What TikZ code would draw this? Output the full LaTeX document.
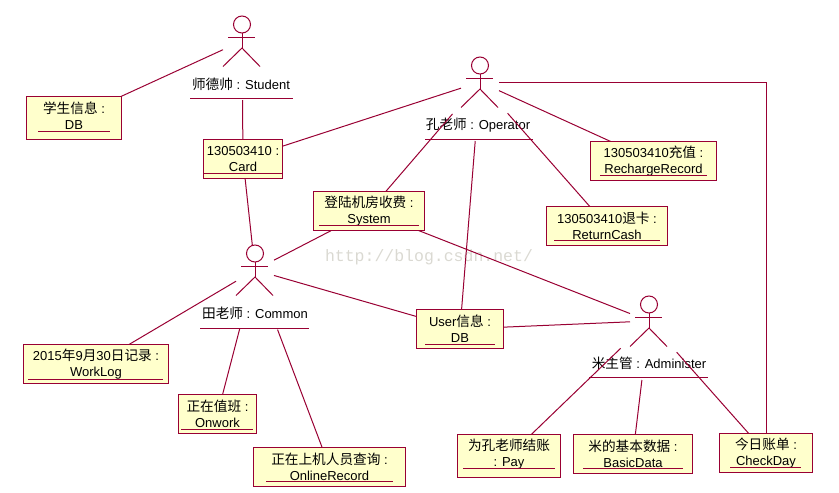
\documentclass[tikz,border=0pt]{standalone}
\usepackage{fontspec}
\setmainfont{Liberation Sans}
\newfontfamily\cjk[Scale=1.05]{Noto Sans CJK SC}
\newfontfamily\markfont{Liberation Mono}
\newcommand{\zh}[1]{{\cjk #1}}
\newcommand{\lowgap}[1]{\rule[-#1pt]{0pt}{#1pt}}
\definecolor{rosered}{HTML}{990033}
\definecolor{roseyellow}{HTML}{FFFFCC}
\definecolor{markgray}{HTML}{DAD9D2}
\usetikzlibrary{positioning}

\begin{document}
\begin{tikzpicture}[x=1pt,y=-1pt]
\tikzset{assoc/.style={draw=rosered,line width=1pt}}
\tikzset{pastlabel/.style={shorten <=#1},pastlabel/.default=13pt}
\tikzset{intoarea/.style={shorten <=-35pt}}
\tikzset{objtext/.style={font=\fontsize{13}{16}\selectfont,align=center,inner sep=0pt,outer sep=0pt}}
\tikzset{objbox/.style={objtext,draw=rosered,fill=roseyellow,line width=1pt}}
\tikzset{actorarea/.style={rectangle,minimum width=38pt,minimum height=118pt,inner sep=0pt,outer sep=0pt}}
\tikzset{actorman/.pic={
    \draw[assoc] (0,-16.5) circle (8.5pt);
    \draw[assoc] (0,-8) -- (0,7);
    \draw[assoc] (-14,-4) -- (13,-4);
    \draw[assoc] (-19,25.5) -- (0,7) -- (18,25.5);
}}
\useasboundingbox (0,0) rectangle (839,493);

\node[font=\markfont\fontsize{16.5}{18}\selectfont,text=markgray,inner sep=0pt] (watermark) at (429,257) {http://blog.csdn.net/};

\node[actorarea] (student) at (242,41) {};
\node[actorarea] (operator) at (480,82) {};
\node[actorarea] (common) at (255,270) {};
\node[actorarea] (administer) at (649,321) {};

\node[objbox,minimum width=95pt,minimum height=43pt] (studentDB) at (74,118) {\zh{学生信息} :\\DB\lowgap{4}};
\node[objbox,minimum width=79pt,minimum height=39pt] (card) at (243,159) {130503410 :\\Card};
\node[objbox,minimum width=111pt,minimum height=39pt] (system) at (369,211) {\zh{登陆机房收费} :\\System};
\node[objbox,minimum width=126pt,minimum height=39pt] (recharge) at (653.5,161) {130503410\zh{充值} :\\RechargeRecord};
\node[objbox,minimum width=121pt,minimum height=39pt] (returnCash) at (607,226) {130503410\zh{退卡} :\\ReturnCash};
\node[objbox,minimum width=145pt,minimum height=39pt] (workLog) at (96,364) {2015\zh{年}9\zh{月}30\zh{日记录} :\\WorkLog};
\node[objbox,minimum width=78pt,minimum height=39pt] (onwork) at (217.5,414) {\zh{正在值班} :\\Onwork};
\node[objbox,minimum width=152pt,minimum height=39pt] (onlineRecord) at (329.5,467) {\zh{正在上机人员查询} :\\OnlineRecord};
\node[objbox,minimum width=87pt,minimum height=39pt] (userDB) at (460,329) {User\zh{信息} :\\DB};
\node[objbox,minimum width=103pt,minimum height=43pt] (pay) at (509,456) {\zh{为孔老师结账}\\: Pay\lowgap{7}};
\node[objbox,minimum width=119pt,minimum height=39pt] (basicData) at (633,454) {\zh{米的基本数据} :\\BasicData};
\node[objbox,minimum width=93pt,minimum height=39pt] (checkDay) at (766,453) {\zh{今日账单} :\\CheckDay};

\pic at (student) {actorman};
\pic at (operator) {actorman};
\pic at (common) {actorman};
\pic at (administer) {actorman};

\node[objtext] (studentLabel) at (241,84) {\zh{师德帅} : Student};
\node[objtext] (operatorLabel) at (478,125) {\zh{孔老师} : Operator};
\node[objtext] (commonLabel) at (255,313) {\zh{田老师} : Common};
\node[objtext] (administerLabel) at (649,363) {\zh{米主管} : Administer};

\draw[assoc] (190,98.5) -- (293,98.5);
\draw[assoc] (425,139.5) -- (533,139.5);
\draw[assoc] (200,328.5) -- (309,328.5);
\draw[assoc] (589,377.5) -- (708,377.5);

\draw[assoc] (38,131) -- (110,131);
\draw[assoc] (203.5,173.5) -- (282.5,173.5);
\draw[assoc] (319,225) -- (419,225);
\draw[assoc] (600,175) -- (707,175);
\draw[assoc] (554,240.5) -- (660,240.5);
\draw[assoc] (28,379.5) -- (163,379.5);
\draw[assoc] (181,429) -- (253,429);
\draw[assoc] (266,481.5) -- (393,481.5);
\draw[assoc] (425,344.5) -- (495,344.5);
\draw[assoc] (463,468.5) -- (555,468.5);
\draw[assoc] (583,468.5) -- (683,468.5);
\draw[assoc] (730,467.5) -- (801,467.5);

\draw[assoc] (student) -- (studentDB);
\draw[assoc] (student) -- (card);
\draw[assoc] (operator) -- (card);
\draw[assoc,intoarea] (common) -- (card);
\draw[assoc,pastlabel] (operator) -- (system);
\draw[assoc] (common) -- (system);
\draw[assoc] (operator) -- (recharge);
\draw[assoc,pastlabel] (operator) -- (returnCash);
\draw[assoc] (operator) -- (userDB);
\draw[assoc] (operator.east) -| (checkDay.north);
\draw[assoc] (administer) -- (system);
\draw[assoc] (common) -- (userDB);
\draw[assoc] (administer) -- (userDB);
\draw[assoc] (common) -- (workLog);
\draw[assoc] (common) -- (onwork);
\draw[assoc,pastlabel=10pt] (common) -- (onlineRecord);
\draw[assoc,pastlabel] (administer) -- (pay);
\draw[assoc] (administer) -- (basicData);
\draw[assoc,pastlabel] (administer) -- (checkDay);
\end{tikzpicture}
\end{document}
